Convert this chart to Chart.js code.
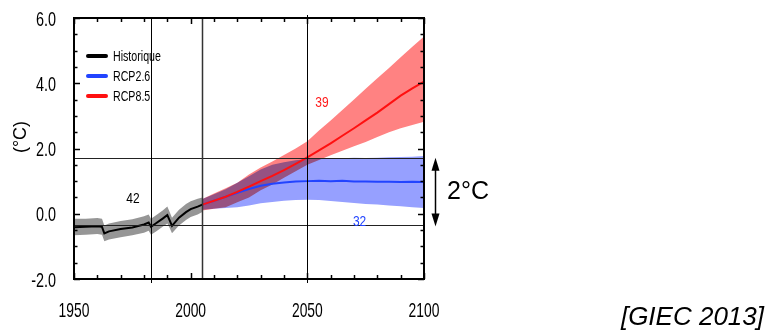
<!DOCTYPE html>
<html>
<head>
<meta charset="utf-8">
<script src="https://cdn.jsdelivr.net/npm/chart.js@4.4.1/dist/chart.umd.min.js"></script>
<style>
  html, body { margin: 0; padding: 0; background: #fff; }
  canvas { display: block; }
</style>
</head>
<body>
<canvas id="giecChart" width="765" height="332"></canvas>
<script>
// Historical simulations (1950-2005)
const histYears = [1950, 1955, 1960, 1962, 1963, 1965, 1970, 1975, 1980, 1982, 1983, 1985, 1988, 1990, 1991, 1992, 1995, 1998, 2000, 2003, 2005];
const histMean  = [-0.41, -0.40, -0.38, -0.40, -0.60, -0.54, -0.47, -0.42, -0.33, -0.27, -0.40, -0.30, -0.15, -0.04, -0.20, -0.37, -0.12, 0.05, 0.14, 0.22, 0.28];
const histLow   = [-0.66, -0.64, -0.62, -0.64, -0.84, -0.79, -0.72, -0.66, -0.58, -0.52, -0.64, -0.55, -0.40, -0.30, -0.44, -0.60, -0.36, -0.19, -0.10, -0.02, 0.05];
const histHigh  = [-0.15, -0.15, -0.13, -0.15, -0.36, -0.30, -0.22, -0.17, -0.08, -0.02, -0.15, -0.05, 0.10, 0.22, 0.05, -0.12, 0.12, 0.30, 0.38, 0.46, 0.50];

// Projections (2005-2100)
const projYears = [2005, 2010, 2015, 2020, 2025, 2030, 2035, 2040, 2045, 2050, 2055, 2060, 2065, 2070, 2075, 2080, 2085, 2090, 2095, 2100];
const rcp26Mean = [0.28, 0.40, 0.52, 0.64, 0.76, 0.86, 0.92, 0.96, 0.99, 1.00, 1.01, 1.00, 1.01, 0.99, 0.99, 0.98, 0.98, 0.97, 0.98, 0.97];
const rcp26Low  = [0.12, 0.15, 0.18, 0.20, 0.25, 0.32, 0.36, 0.40, 0.42, 0.43, 0.42, 0.39, 0.36, 0.33, 0.30, 0.28, 0.25, 0.23, 0.20, 0.18];
const rcp26High = [0.45, 0.60, 0.75, 0.95, 1.15, 1.36, 1.50, 1.58, 1.64, 1.68, 1.70, 1.71, 1.70, 1.72, 1.71, 1.72, 1.73, 1.74, 1.75, 1.77];
const rcp85Mean = [0.28, 0.40, 0.52, 0.67, 0.83, 1.00, 1.16, 1.34, 1.53, 1.73, 1.94, 2.16, 2.39, 2.62, 2.86, 3.10, 3.36, 3.62, 3.84, 4.05];
const rcp85Low  = [0.10, 0.15, 0.20, 0.35, 0.50, 0.72, 0.90, 1.10, 1.30, 1.50, 1.65, 1.79, 1.93, 2.07, 2.20, 2.35, 2.50, 2.62, 2.72, 2.82];
const rcp85High = [0.45, 0.62, 0.78, 0.95, 1.20, 1.42, 1.60, 1.80, 2.00, 2.22, 2.55, 2.86, 3.18, 3.50, 3.83, 4.15, 4.47, 4.80, 5.12, 5.43];

// Axis ticks, reference lines and model counts
const xTickLabels = [1950, 2000, 2050, 2100];
const yTickLabels = [-2, 0, 2, 4, 6];
const refYears = [1983, 2005, 2050];
const refLevels = [1.72, -0.33];
const countLabels = ["42", "39", "32"];
const countYears = [1975.3, 2056.3, 2072.4];
const countValues = [0.49, 3.43, -0.21];
const countColors = ["#000000", "#ff1a1a", "#2244ff"];

const SANS = '"Liberation Sans", Arial, sans-serif';

const pts = (xs, ys) => xs.map((x, i) => ({ x: x, y: ys[i] }));

function band(label, low, high, years, color) {
  return [
    { label: label + " bas", data: pts(years, low), borderWidth: 0, pointRadius: 0, fill: false, order: 5, band: true },
    { label: label + " haut", data: pts(years, high), borderWidth: 0, pointRadius: 0, fill: "-1", backgroundColor: color, order: 5, band: true },
  ];
}

// the original figure uses a squeezed Helvetica, fake it with a horizontal scale
function narrowText(ctx, text, x, y, size, squeeze, align, color) {
  ctx.save();
  ctx.font = size + "px " + SANS;
  ctx.fillStyle = color || "#000";
  ctx.textBaseline = "alphabetic";
  ctx.textAlign = "left";
  const w = ctx.measureText(text).width * squeeze;
  let left = x;
  if (align === "center") left = x - w / 2;
  if (align === "right") left = x - w;
  ctx.translate(left, y);
  ctx.scale(squeeze, 1);
  ctx.fillText(text, 0, 0);
  ctx.restore();
}

// multiply the bands so the overlap gets darker like in the figure
const blendBands = {
  id: "blendBands",
  beforeDraw(chart) {
    chart.ctx.globalCompositeOperation = "multiply";
  },
  beforeDatasetDraw(chart) {
    chart.ctx.globalCompositeOperation = "source-over";
  },
};

const decorations = {
  id: "decorations",
  afterDraw(chart) {
    const ctx = chart.ctx;
    const xs = chart.scales.x;
    const ys = chart.scales.y;
    const a = chart.chartArea;
    ctx.save();
    ctx.globalCompositeOperation = "source-over";

    const seg = (x1, y1, x2, y2) => {
      ctx.beginPath();
      ctx.moveTo(x1, y1);
      ctx.lineTo(x2, y2);
      ctx.stroke();
    };

    // horizontal reference lines
    ctx.strokeStyle = "#222";
    ctx.lineWidth = 1;
    refLevels.forEach((v) => {
      const py = Math.round(ys.getPixelForValue(v)) + 0.5;
      seg(a.left, py, a.right, py);
    });

    // vertical reference lines
    refYears.forEach((yr, i) => {
      const px = Math.round(xs.getPixelForValue(yr)) + 0.5;
      ctx.strokeStyle = i === 1 ? "#333" : "#000";
      ctx.lineWidth = i === 1 ? 1.5 : 1;
      const ext = i === 1 ? 0 : 4;
      seg(px, a.top - (i === 2 ? 3 : 0), px, a.bottom + ext);
    });

    // frame
    ctx.strokeStyle = "#000";
    ctx.lineWidth = 2;
    ctx.strokeRect(a.left, a.top, a.right - a.left, a.bottom - a.top);

    // inward ticks
    ctx.lineWidth = 1.5;
    for (let yr = 1950; yr <= 2100; yr += 10) {
      const px = Math.round(xs.getPixelForValue(yr)) + 0.5;
      const len = yr % 50 === 0 ? 6 : 4;
      seg(px, a.bottom, px, a.bottom - len);
      seg(px, a.top, px, a.top + len);
    }
    for (let v = -2; v <= 6; v += 0.5) {
      const py = Math.round(ys.getPixelForValue(v)) + 0.5;
      const len = v % 2 === 0 ? 6 : 3.5;
      seg(a.left, py, a.left + len, py);
      seg(a.right, py, a.right - len, py);
    }

    // tick labels from the library's ticks
    xs.ticks.forEach((t) => {
      narrowText(ctx, String(t.value), xs.getPixelForValue(t.value), a.bottom + 38, 21, 0.66, "center");
    });
    ys.ticks.forEach((t) => {
      narrowText(ctx, t.value.toFixed(1), a.left - 18, ys.getPixelForValue(t.value) + 7.5, 20, 0.72, "right");
    });

    // legend
    const legendItems = chart.data.datasets.filter((d) => !d.band);
    const order = ["Historique", "RCP2.6", "RCP8.5"];
    ctx.lineCap = "round";
    order.forEach((name, i) => {
      const d = legendItems.find((it) => it.label === name);
      const ly = 56 + i * 20;
      ctx.strokeStyle = d.borderColor;
      ctx.lineWidth = 4;
      seg(88, ly, 106, ly);
      narrowText(ctx, name, 113, ly + 5, 14, 0.76, "left");
    });
    ctx.lineCap = "butt";

    // model counts
    countLabels.forEach((t, i) => {
      narrowText(ctx, t, xs.getPixelForValue(countYears[i]), ys.getPixelForValue(countValues[i]) + 5.5, 15, 0.8, "center", countColors[i]);
    });

    // y axis title
    ctx.save();
    ctx.translate(26, 137);
    ctx.rotate(-Math.PI / 2);
    ctx.fillStyle = "#000";
    ctx.font = "18px " + SANS;
    ctx.textAlign = "center";
    ctx.textBaseline = "alphabetic";
    ctx.fillText("(°C)", 0, 0);
    ctx.restore();

    // 2°C arrow between the two reference levels
    const ax = 435.5;
    const yTop = ys.getPixelForValue(refLevels[0]);
    const yBot = ys.getPixelForValue(refLevels[1]) + 2;
    ctx.strokeStyle = "#000";
    ctx.fillStyle = "#000";
    ctx.lineWidth = 1.5;
    seg(ax, yTop + 8, ax, yBot - 8);
    ctx.beginPath();
    ctx.moveTo(ax, yTop);
    ctx.lineTo(ax - 4, yTop + 13);
    ctx.lineTo(ax + 4, yTop + 13);
    ctx.closePath();
    ctx.fill();
    ctx.beginPath();
    ctx.moveTo(ax, yBot);
    ctx.lineTo(ax - 4, yBot - 13);
    ctx.lineTo(ax + 4, yBot - 13);
    ctx.closePath();
    ctx.fill();

    ctx.font = "25px " + SANS;
    ctx.textAlign = "left";
    ctx.textBaseline = "alphabetic";
    ctx.fillText("2°C", 447, 199);

    ctx.font = "italic 26px " + SANS;
    ctx.textAlign = "right";
    ctx.fillText("[GIEC 2013]", 764, 325);

    ctx.restore();
  },
};

const ctx = document.getElementById("giecChart").getContext("2d");

const giecChart = new Chart(ctx, {
  type: "line",
  data: {
    datasets: [
      ...band("Historique", histLow, histHigh, histYears, "#969696"),
      ...band("RCP8.5", rcp85Low, rcp85High, projYears, "#ff8282"),
      ...band("RCP2.6", rcp26Low, rcp26High, projYears, "#96a0ff"),
      { label: "RCP8.5", data: pts(projYears, rcp85Mean), borderColor: "#ff1010", borderWidth: 2, pointRadius: 0, fill: false, order: 1 },
      { label: "RCP2.6", data: pts(projYears, rcp26Mean), borderColor: "#2244ff", borderWidth: 2, pointRadius: 0, fill: false, order: 1 },
      { label: "Historique", data: pts(histYears, histMean), borderColor: "#000000", borderWidth: 2, pointRadius: 0, fill: false, order: 1 },
    ],
  },
  options: {
    responsive: false,
    animation: false,
    layout: { padding: { left: 0, right: 341, top: 18, bottom: 0 } },
    plugins: {
      legend: { display: false },
      tooltip: { enabled: false },
      filler: { drawTime: "beforeDatasetsDraw" },
    },
    scales: {
      x: {
        type: "linear",
        min: 1950,
        max: 2100,
        afterBuildTicks: (scale) => { scale.ticks = xTickLabels.map((v) => ({ value: v })); },
        afterFit: (scale) => { scale.height = 53; },
        grid: { display: false, drawTicks: false },
        border: { display: false },
        ticks: { display: false },
      },
      y: {
        min: -2,
        max: 6,
        afterBuildTicks: (scale) => { scale.ticks = yTickLabels.map((v) => ({ value: v })); },
        afterFit: (scale) => { scale.width = 74; },
        grid: { display: false, drawTicks: false },
        border: { display: false },
        ticks: { display: false },
      },
    },
  },
  plugins: [blendBands, decorations],
});
</script>
</body>
</html>
